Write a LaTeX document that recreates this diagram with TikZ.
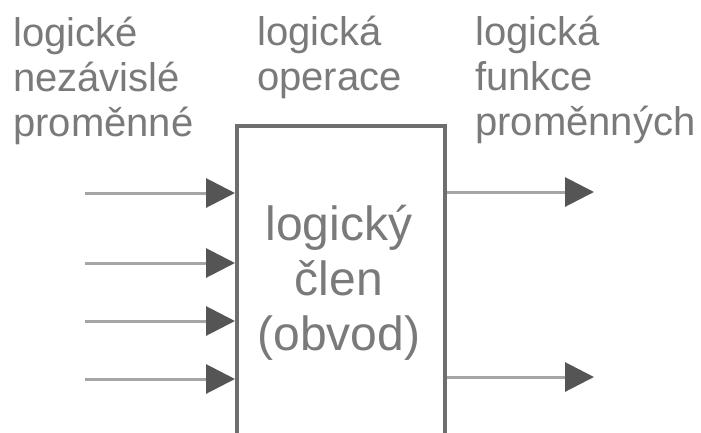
\documentclass[tikz,border=0pt]{standalone}
\usepackage{fontspec}
\setmainfont{Liberation Sans}
\usetikzlibrary{arrows.meta}
\definecolor{txtgray}{HTML}{7A7A7A}
\definecolor{boxgray}{HTML}{6E6E6E}
\definecolor{wiregray}{HTML}{A6A6A6}
\definecolor{tipgray}{HTML}{555555}
\tikzset{
  % multi-line nodes: the base anchor sits on the last line
  label/.style={anchor=base west, inner sep=0pt, align=left, text=txtgray,
    font=\fontsize{40}{45}\selectfont},
  member/.style={draw=boxgray, line width=4pt, inner sep=0pt,
    minimum width=208pt, minimum height=330pt, anchor=north west},
  membertext/.style={anchor=base, inner sep=0pt, align=center, text=txtgray,
    font=\fontsize{48}{55}\selectfont},
  wire/.style={draw=wiregray, line width=3pt,
    -{Triangle[length=29pt,width=29pt,fill=tipgray,color=tipgray]}},
}
\begin{document}
\begin{tikzpicture}[x=1pt,y=-1pt]
  \useasboundingbox (0,0) rectangle (701,432);
  \clip (0,0) rectangle (701,432);
  \fill[white] (0,0) rectangle (701,432);

  % column headings
  \node[label] (hin)  at (13,136) {logické\\nezávislé\\proměnné};
  \node[label] (hop)  at (257,90) {logická\\operace};
  \node[label] (hout) at (475,135) {logická\\funkce\\proměnných};

  % the logic gate (its lower part runs off the page)
  \node[member] (gate) at (235,124) {};
  \node[membertext] (gtext) at (339,350) {logický\\člen\\(obvod)};

  % inputs
  \coordinate (i1) at (85,193);
  \coordinate (i2) at (85,263);
  \coordinate (i3) at (85,321);
  \coordinate (i4) at (85,379);
  \foreach \k in {1,...,4}
    \draw[wire] (i\k) -- (i\k -| gate.west);

  % outputs
  \coordinate (o1) at (594,192);
  \coordinate (o2) at (594,377);
  \foreach \k in {1,2}
    \draw[wire] (o\k -| gate.east) -- (o\k);
\end{tikzpicture}
\end{document}
